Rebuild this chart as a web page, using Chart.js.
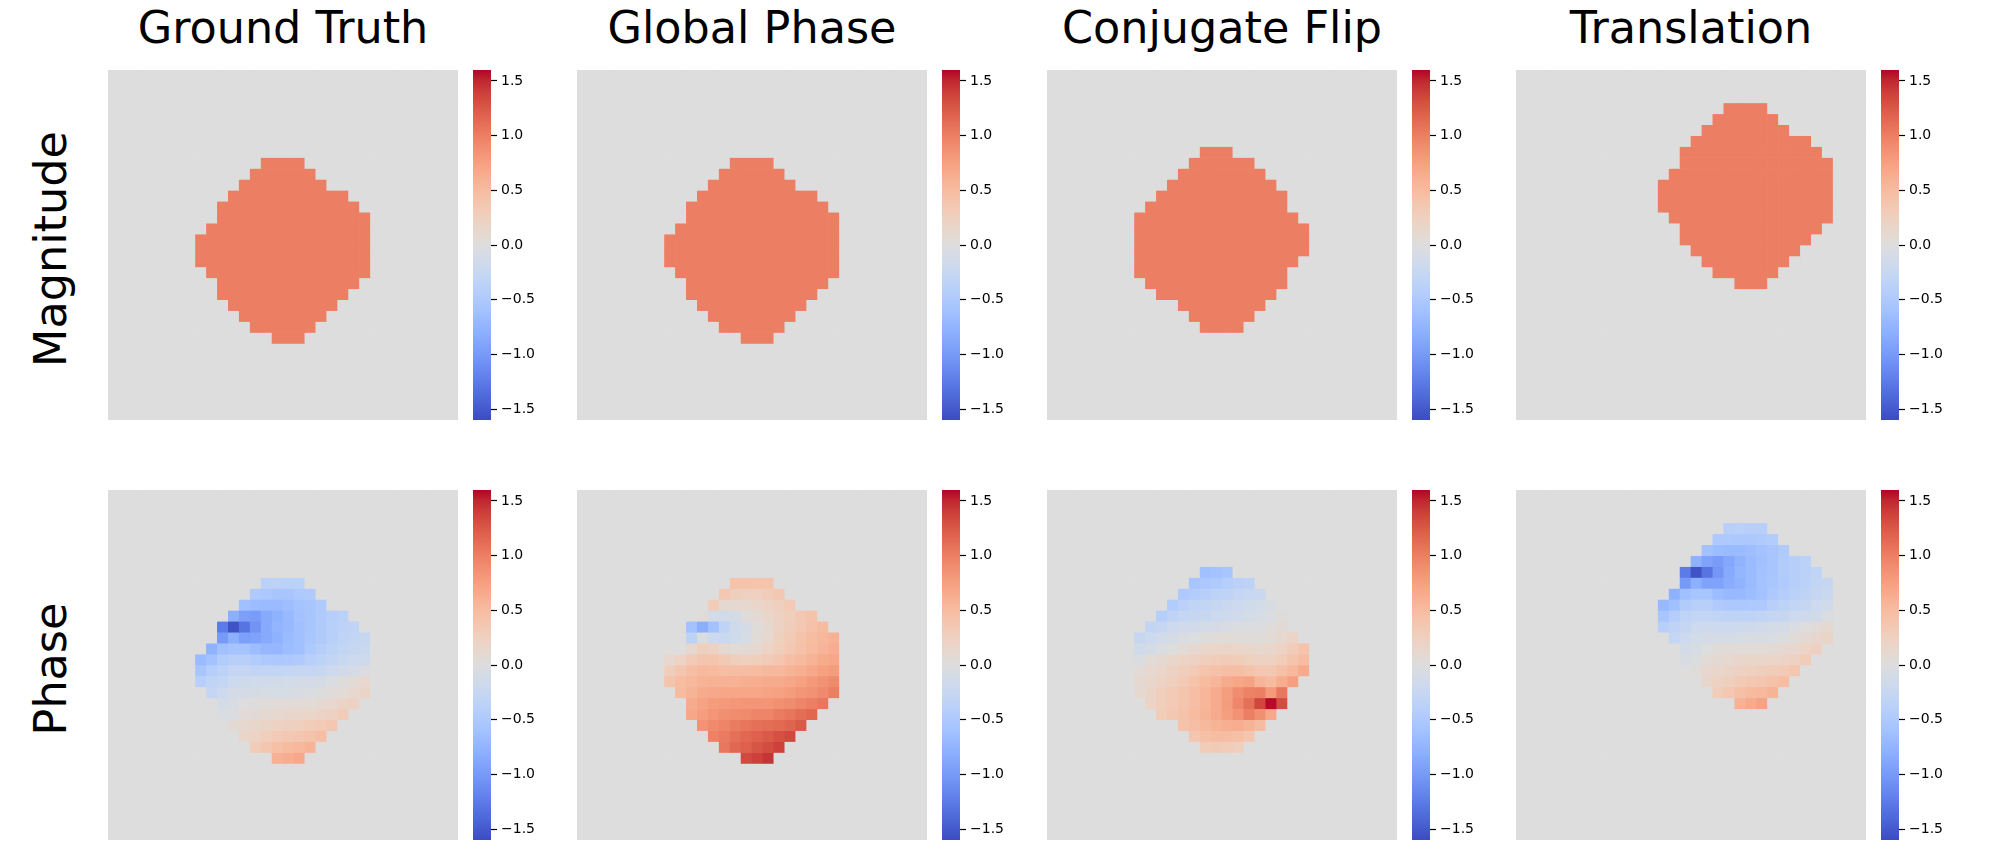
<!DOCTYPE html>
<html>
<head>
<meta charset="utf-8">
<title>Phase retrieval ambiguities</title>
<script src="https://cdn.jsdelivr.net/npm/chart.js@4"></script>
<style>
  html, body { margin: 0; padding: 0; background: #fff; }
  #figure { position: relative; width: 2000px; height: 851px; overflow: hidden; font-family: "DejaVu Sans", sans-serif; color: #000; }
  #figure canvas { position: absolute; }
  .colTitle { position: absolute; top: 2px; width: 500px; text-align: center; font-size: 44.5px; line-height: 52px; white-space: nowrap; }
  .rowTitle { position: absolute; left: 51px; width: 350px; text-align: center; font-size: 44.5px; line-height: 52px; white-space: nowrap; transform: translate(-50%, -50%) rotate(-90deg); }
</style>
</head>
<body>
<div id="figure"></div>
<script>
// ===== DATA =====
const colTitles = ["Ground Truth", "Global Phase", "Conjugate Flip", "Translation"];
const rowTitles = ["Magnitude", "Phase"];
const colorbarTicks = [-1.5, -1, -0.5, 0, 0.5, 1, 1.5];
const colorMin = -1.6;
const colorMax = 1.6;
const gridSize = 32;
const magnitudeLevel = 1.0;

// first non empty row / column of each row of the object
const groundTruthFirstRow = 8;
const groundTruthFirstCols = [14, 13, 12, 11, 10, 10, 9, 8, 8, 8, 9, 10, 10, 11, 12, 13, 15];
const globalPhaseFirstRow = 8;
const globalPhaseFirstCols = [14, 13, 12, 11, 10, 10, 9, 8, 8, 8, 9, 10, 10, 11, 12, 13, 15];
const conjugateFirstRow = 7;
const conjugateFirstCols = [14, 13, 12, 11, 10, 9, 8, 8, 8, 8, 8, 8, 9, 10, 12, 13, 14];
const translationFirstRow = 3;
const translationFirstCols = [19, 18, 17, 16, 15, 15, 14, 13, 13, 13, 14, 15, 15, 16, 17, 18, 20];

const groundTruthPhase = [
  [-0.38, -0.36, -0.38, -0.38],
  [-0.48, -0.52, -0.55, -0.55, -0.5, -0.48],
  [-0.62, -0.66, -0.68, -0.68, -0.64, -0.58, -0.55, -0.48],
  [-0.8, -0.95, -0.98, -0.85, -0.78, -0.7, -0.6, -0.55, -0.48, -0.42, -0.38],
  [-1.25, -1.55, -1.3, -1.05, -0.85, -0.75, -0.7, -0.62, -0.55, -0.48, -0.4, -0.36, -0.32],
  [-1.0, -0.8, -0.95, -0.93, -0.85, -0.78, -0.68, -0.62, -0.54, -0.48, -0.4, -0.34, -0.3, -0.26],
  [-0.78, -0.62, -0.58, -0.58, -0.66, -0.72, -0.72, -0.66, -0.62, -0.5, -0.43, -0.36, -0.3, -0.26, -0.22],
  [-0.68, -0.6, -0.46, -0.4, -0.4, -0.46, -0.5, -0.52, -0.5, -0.48, -0.4, -0.36, -0.3, -0.24, -0.2, -0.18],
  [-0.55, -0.42, -0.36, -0.28, -0.28, -0.32, -0.3, -0.3, -0.28, -0.26, -0.28, -0.24, -0.2, -0.14, -0.1, -0.03],
  [-0.4, -0.32, -0.28, -0.2, -0.17, -0.16, -0.16, -0.14, -0.13, -0.12, -0.12, -0.09, -0.05, 0.02, 0.07, 0.13],
  [-0.28, -0.2, -0.12, -0.1, -0.09, -0.08, -0.08, -0.08, -0.06, -0.05, -0.02, 0.04, 0.07, 0.12, 0.18],
  [-0.12, -0.06, 0.0, 0.02, 0.03, 0.05, 0.06, 0.06, 0.07, 0.1, 0.13, 0.18, 0.22],
  [-0.04, -0.03, 0.06, 0.08, 0.1, 0.12, 0.14, 0.15, 0.17, 0.2, 0.22, 0.3],
  [0.08, 0.12, 0.15, 0.18, 0.22, 0.24, 0.26, 0.3, 0.33, 0.37],
  [0.17, 0.2, 0.28, 0.33, 0.35, 0.38, 0.42, 0.46],
  [0.3, 0.38, 0.45, 0.5, 0.53, 0.58],
  [0.6, 0.63, 0.68]
];

const globalPhasePhase = [
  [0.42, 0.42, 0.4, 0.4],
  [0.36, 0.28, 0.24, 0.26, 0.3, 0.35],
  [0.3, 0.1, 0.1, 0.12, 0.16, 0.2, 0.26, 0.33],
  [0.05, -0.12, -0.14, -0.12, 0.04, 0.08, 0.15, 0.22, 0.28, 0.36, 0.42],
  [-0.6, -0.82, -0.6, -0.33, -0.17, -0.1, 0.03, 0.1, 0.23, 0.29, 0.37, 0.44, 0.5],
  [-0.35, -0.03, -0.2, -0.22, -0.16, -0.08, 0.05, 0.12, 0.25, 0.33, 0.42, 0.48, 0.54, 0.6],
  [0.0, 0.12, 0.25, 0.22, 0.1, 0.07, 0.08, 0.11, 0.2, 0.28, 0.36, 0.44, 0.5, 0.57, 0.63],
  [0.13, 0.2, 0.32, 0.39, 0.4, 0.34, 0.27, 0.26, 0.28, 0.31, 0.38, 0.47, 0.51, 0.58, 0.65, 0.7],
  [0.28, 0.38, 0.46, 0.51, 0.5, 0.47, 0.48, 0.48, 0.5, 0.52, 0.52, 0.58, 0.62, 0.68, 0.74, 0.78],
  [0.4, 0.48, 0.53, 0.58, 0.6, 0.6, 0.6, 0.62, 0.63, 0.65, 0.65, 0.7, 0.74, 0.8, 0.86, 0.92],
  [0.5, 0.58, 0.65, 0.68, 0.69, 0.7, 0.7, 0.7, 0.72, 0.74, 0.78, 0.83, 0.86, 0.92, 1.0],
  [0.65, 0.72, 0.78, 0.8, 0.82, 0.84, 0.84, 0.84, 0.87, 0.9, 0.95, 1.0, 1.05],
  [0.7, 0.76, 0.84, 0.88, 0.9, 0.92, 0.96, 0.96, 1.02, 1.06, 1.12, 1.16],
  [0.85, 0.92, 0.96, 1.02, 1.06, 1.1, 1.12, 1.14, 1.18, 1.24],
  [0.98, 1.03, 1.1, 1.16, 1.2, 1.24, 1.3, 1.34],
  [1.05, 1.15, 1.2, 1.27, 1.32, 1.38],
  [1.33, 1.38, 1.44]
];

const conjugatePhase = [
  [-0.62, -0.6, -0.55],
  [-0.55, -0.52, -0.48, -0.42, -0.37, -0.35],
  [-0.5, -0.46, -0.4, -0.36, -0.33, -0.28, -0.25, -0.22],
  [-0.46, -0.37, -0.32, -0.3, -0.26, -0.22, -0.2, -0.16, -0.13, -0.07],
  [-0.42, -0.33, -0.28, -0.26, -0.24, -0.2, -0.18, -0.15, -0.12, -0.08, -0.05, 0.03],
  [-0.3, -0.26, -0.2, -0.15, -0.14, -0.12, -0.1, -0.07, -0.03, -0.03, -0.02, 0.03, 0.08],
  [-0.26, -0.2, -0.14, -0.09, -0.05, -0.01, 0.02, 0.04, 0.05, 0.04, 0.03, 0.03, 0.07, 0.12, 0.2],
  [-0.16, -0.12, -0.05, 0, 0.07, 0.1, 0.15, 0.17, 0.18, 0.17, 0.15, 0.12, 0.14, 0.2, 0.3, 0.4],
  [-0.04, 0.05, 0.1, 0.15, 0.2, 0.23, 0.27, 0.3, 0.31, 0.3, 0.25, 0.23, 0.23, 0.3, 0.4, 0.48],
  [0.06, 0.12, 0.16, 0.22, 0.28, 0.33, 0.4, 0.43, 0.47, 0.47, 0.42, 0.37, 0.37, 0.45, 0.53, 0.65],
  [0.1, 0.14, 0.2, 0.26, 0.33, 0.42, 0.5, 0.56, 0.65, 0.7, 0.72, 0.57, 0.5, 0.63, 0.75],
  [0.1, 0.18, 0.28, 0.33, 0.38, 0.47, 0.55, 0.65, 0.77, 0.9, 0.98, 1.0, 0.8, 1.05],
  [0.2, 0.28, 0.33, 0.4, 0.47, 0.55, 0.65, 0.78, 0.95, 1.1, 1.35, 1.58, 1.32],
  [0.3, 0.35, 0.42, 0.5, 0.58, 0.65, 0.76, 0.85, 1.0, 0.88, 0.68],
  [0.42, 0.47, 0.52, 0.58, 0.62, 0.63, 0.58, 0.5],
  [0.38, 0.45, 0.48, 0.48, 0.45, 0.38],
  [0.3, 0.32, 0.3, 0.26]
];

const translationPhase = [
  [-0.4, -0.38, -0.4, -0.4],
  [-0.5, -0.5, -0.52, -0.52, -0.48, -0.46],
  [-0.6, -0.66, -0.68, -0.68, -0.64, -0.6, -0.55, -0.48],
  [-0.78, -0.93, -0.98, -0.88, -0.76, -0.68, -0.62, -0.55, -0.47, -0.43, -0.38],
  [-1.25, -1.55, -1.3, -1.03, -0.85, -0.74, -0.68, -0.6, -0.55, -0.47, -0.42, -0.37, -0.32],
  [-1.0, -0.8, -0.93, -0.93, -0.84, -0.76, -0.68, -0.6, -0.54, -0.48, -0.42, -0.37, -0.3, -0.26],
  [-0.78, -0.62, -0.56, -0.56, -0.66, -0.7, -0.7, -0.66, -0.6, -0.5, -0.44, -0.38, -0.33, -0.26, -0.22],
  [-0.7, -0.62, -0.47, -0.4, -0.4, -0.48, -0.52, -0.52, -0.5, -0.5, -0.4, -0.36, -0.3, -0.26, -0.2, -0.16],
  [-0.55, -0.44, -0.34, -0.3, -0.3, -0.32, -0.33, -0.33, -0.33, -0.31, -0.28, -0.26, -0.2, -0.18, -0.14, -0.04],
  [-0.4, -0.33, -0.27, -0.2, -0.19, -0.2, -0.2, -0.18, -0.17, -0.15, -0.12, -0.1, -0.05, 0.01, 0.06, 0.1],
  [-0.28, -0.2, -0.13, -0.1, -0.09, -0.09, -0.08, -0.07, -0.06, -0.05, -0.02, 0.05, 0.09, 0.14, 0.18],
  [-0.12, -0.08, -0.01, 0.03, 0.05, 0.05, 0.06, 0.07, 0.08, 0.11, 0.13, 0.2, 0.24],
  [-0.06, -0.02, 0.06, 0.09, 0.12, 0.14, 0.15, 0.15, 0.17, 0.2, 0.22, 0.3],
  [0.03, 0.13, 0.15, 0.18, 0.22, 0.25, 0.27, 0.3, 0.33, 0.38],
  [0.15, 0.22, 0.26, 0.33, 0.37, 0.38, 0.44, 0.48],
  [0.3, 0.36, 0.45, 0.5, 0.53, 0.58],
  [0.6, 0.65, 0.72]
];

// ===== COOLWARM COLORMAP =====
const coolwarmR = [0.2298, 0.2662, 0.3039, 0.3428, 0.3830, 0.4244, 0.4667, 0.5096, 0.5530, 0.5963, 0.6392, 0.6813, 0.7222, 0.7615, 0.7987, 0.8335, 0.8654, 0.8978, 0.9241, 0.9445, 0.9589, 0.9673, 0.9700, 0.9668, 0.9580, 0.9437, 0.9239, 0.8990, 0.8692, 0.8346, 0.7956, 0.7525, 0.7057];
const coolwarmG = [0.2987, 0.3531, 0.4065, 0.4588, 0.5094, 0.5581, 0.6046, 0.6483, 0.6889, 0.7261, 0.7596, 0.7890, 0.8140, 0.8343, 0.8498, 0.8602, 0.8654, 0.8489, 0.8274, 0.8009, 0.7698, 0.7341, 0.6943, 0.6504, 0.6028, 0.5518, 0.4973, 0.4396, 0.3783, 0.3129, 0.2413, 0.1572, 0.0156];
const coolwarmB = [0.7537, 0.8015, 0.8450, 0.8837, 0.9174, 0.9456, 0.9682, 0.9848, 0.9954, 0.9998, 0.9982, 0.9904, 0.9766, 0.9569, 0.9317, 0.9011, 0.8654, 0.8209, 0.7745, 0.7267, 0.6780, 0.6288, 0.5794, 0.5303, 0.4818, 0.4342, 0.3880, 0.3432, 0.3003, 0.2593, 0.2205, 0.1841, 0.1502];

function coolwarm(t) {
  const p = Math.min(Math.max(t, 0), 1) * 32;
  const i = Math.min(Math.floor(p), 31);
  const f = p - i;
  const mix = a => Math.round((a[i] + (a[i + 1] - a[i]) * f) * 255);
  return `rgb(${mix(coolwarmR)}, ${mix(coolwarmG)}, ${mix(coolwarmB)})`;
}

function valueColor(v) {
  return coolwarm((v - colorMin) / (colorMax - colorMin));
}

// ===== LAYOUT =====
const panelSize = 350;
const panelLefts = [108, 577, 1047, 1516];
const panelTops = [70, 490];
const colorbarGap = 15;
const colorbarWidth = 18;
const colorbarAxisWidth = 58;
const rowTitleShift = 4;

const figure = document.getElementById("figure");

function addCanvas(left, top, width, height) {
  const canvas = document.createElement("canvas");
  canvas.width = width;
  canvas.height = height;
  canvas.style.left = left + "px";
  canvas.style.top = top + "px";
  canvas.style.width = width + "px";
  canvas.style.height = height + "px";
  figure.appendChild(canvas);
  return canvas;
}

// expands the object's rows to a full grid, everything outside it stays 0
function buildGrid(firstRow, firstCols, rows, cellValue) {
  const grid = [];
  for (let r = 0; r < gridSize; r++) grid.push(new Array(gridSize).fill(0));
  rows.forEach((row, i) => {
    row.forEach((v, j) => {
      grid[firstRow + i][firstCols[i] + j] = cellValue === undefined ? v : cellValue;
    });
  });
  return grid;
}

function drawHeatmap(canvas, grid) {
  const labels = grid.map((_, c) => String(c));
  // one floating bar series for every row of the grid
  const datasets = grid.map((row, r) => ({
    data: row.map(() => [r, r + 1]),
    backgroundColor: row.map(valueColor),
    borderWidth: 0,
    barPercentage: 1,
    categoryPercentage: 1,
    grouped: false
  }));

  new Chart(canvas, {
    type: "bar",
    data: { labels: labels, datasets: datasets },
    options: {
      responsive: false,
      animation: false,
      events: [],
      layout: { padding: 0 },
      plugins: { legend: { display: false }, tooltip: { enabled: false } },
      scales: {
        x: { display: false },
        y: { display: false, reverse: true, min: 0, max: gridSize }
      }
    }
  });
}

function drawColorbar(canvas) {
  new Chart(canvas, {
    type: "bar",
    data: {
      labels: ["value"],
      datasets: [{
        data: [[colorMin, colorMax]],
        borderWidth: 0,
        barPercentage: 1,
        categoryPercentage: 1,
        inflateAmount: 0,
        backgroundColor: ctx => {
          const area = ctx.chart.chartArea;
          if (!area) return "#ddd";
          const g = ctx.chart.ctx.createLinearGradient(0, area.bottom, 0, area.top);
          for (let i = 0; i <= 64; i++) g.addColorStop(i / 64, coolwarm(i / 64));
          return g;
        }
      }]
    },
    options: {
      responsive: false,
      animation: false,
      events: [],
      layout: { padding: 0 },
      plugins: { legend: { display: false }, tooltip: { enabled: false } },
      scales: {
        x: { display: false },
        y: {
          position: "right",
          min: colorMin,
          max: colorMax,
          afterBuildTicks: axis => { axis.ticks = colorbarTicks.map(v => ({ value: v })); },
          afterFit: axis => {
            axis.width = colorbarAxisWidth;
            // the bar has to fill the whole height, labels stay inside anyway
            axis.paddingTop = 0;
            axis.paddingBottom = 0;
          },
          border: { display: false },
          grid: { drawOnChartArea: false, drawTicks: true, tickLength: 6, tickColor: "#000", tickWidth: 1.2 },
          ticks: {
            padding: 4,
            color: "#000",
            maxRotation: 0,
            autoSkip: false,
            font: { family: "'DejaVu Sans'", size: 14 },
            callback: v => v.toFixed(1).replace("-", "\u2212")
          }
        }
      }
    }
  });
}

const phaseGrids = [
  buildGrid(groundTruthFirstRow, groundTruthFirstCols, groundTruthPhase),
  buildGrid(globalPhaseFirstRow, globalPhaseFirstCols, globalPhasePhase),
  buildGrid(conjugateFirstRow, conjugateFirstCols, conjugatePhase),
  buildGrid(translationFirstRow, translationFirstCols, translationPhase)
];
const magnitudeGrids = [
  buildGrid(groundTruthFirstRow, groundTruthFirstCols, groundTruthPhase, magnitudeLevel),
  buildGrid(globalPhaseFirstRow, globalPhaseFirstCols, globalPhasePhase, magnitudeLevel),
  buildGrid(conjugateFirstRow, conjugateFirstCols, conjugatePhase, magnitudeLevel),
  buildGrid(translationFirstRow, translationFirstCols, translationPhase, magnitudeLevel)
];

[magnitudeGrids, phaseGrids].forEach((grids, rowIndex) => {
  grids.forEach((grid, colIndex) => {
    const left = panelLefts[colIndex];
    const top = panelTops[rowIndex];
    drawHeatmap(addCanvas(left, top, panelSize, panelSize), grid);
    drawColorbar(addCanvas(left + panelSize + colorbarGap, top, colorbarWidth + colorbarAxisWidth, panelSize));
  });
});

// ===== TITLES =====
colTitles.forEach((text, i) => {
  const el = document.createElement("div");
  el.className = "colTitle";
  el.textContent = text;
  el.style.left = (panelLefts[i] + panelSize / 2 - 250) + "px";
  figure.appendChild(el);
});
rowTitles.forEach((text, i) => {
  const el = document.createElement("div");
  el.className = "rowTitle";
  el.textContent = text;
  el.style.top = (panelTops[i] + panelSize / 2 + rowTitleShift) + "px";
  figure.appendChild(el);
});
</script>
</body>
</html>
